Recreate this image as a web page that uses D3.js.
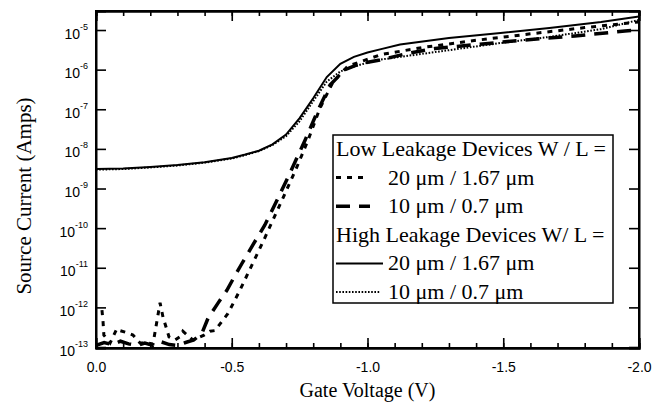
<!DOCTYPE html>
<html>
<head>
<meta charset="utf-8">
<script src="https://cdn.jsdelivr.net/npm/d3@7"></script>
<style>
  body { margin: 0; background: #fff; }
  svg { display: block; }
</style>
</head>
<body>
<svg id="chart"></svg>
<script>
// tick labels
var xTicks = [0, -0.5, -1.0, -1.5, -2.0]
var yExponents = [-13, -12, -11, -10, -9, -8, -7, -6, -5]

// High leakage devices (same gate voltage grid)
var voltHigh = [0, -0.1, -0.2, -0.3, -0.4, -0.5, -0.55, -0.6, -0.65, -0.7, -0.75, -0.8, -0.85, -0.9, -0.95, -1.0, -1.05, -1.12, -1.3, -1.49, -1.67, -1.86, -2.0]
var highWide = [3.1e-9, 3.2e-9, 3.5e-9, 3.9e-9, 4.6e-9, 5.9e-9, 7.2e-9, 9e-9, 1.3e-8, 2.3e-8, 6e-8, 1.9e-7, 6.5e-7, 1.4e-6, 2.1e-6, 2.7e-6, 3.3e-6, 4.3e-6, 6.3e-6, 8.4e-6, 1.12e-5, 1.6e-5, 2.2e-5]
var highNarrow = [3.0e-9, 3.1e-9, 3.4e-9, 3.8e-9, 4.5e-9, 5.7e-9, 7e-9, 8.8e-9, 1.25e-8, 2.1e-8, 5e-8, 1.6e-7, 5e-7, 9e-7, 1.2e-6, 1.5e-6, 1.8e-6, 2.1e-6, 3.1e-6, 4.7e-6, 6.7e-6, 1.05e-5, 1.8e-5]

// Low leakage 20 um / 1.67 um
var voltLowWide = [-0.022, -0.026, -0.029, -0.052, -0.077, -0.088, -0.114, -0.136, -0.162, -0.188, -0.21, -0.236, -0.247, -0.258, -0.269, -0.291, -0.309, -0.32, -0.357, -0.376, -0.398, -0.42, -0.438, -0.486, -0.53, -0.575, -0.615, -0.689, -0.74, -0.781, -0.825, -0.873, -0.928, -1.05, -1.2, -1.4, -1.6, -1.8, -2.0]
var lowWide = [8.5e-13, 4.3e-13, 2e-13, 1.26e-13, 2.9e-13, 2.6e-13, 2.3e-13, 2e-13, 1.26e-13, 1.26e-13, 1.2e-13, 1.3e-12, 5.6e-13, 3.2e-13, 1.8e-13, 1.5e-13, 1.8e-13, 2.5e-13, 1.5e-13, 1.7e-13, 2e-13, 2.5e-13, 2.6e-13, 7e-13, 2.7e-12, 1.2e-11, 4.5e-11, 5.8e-10, 3.5e-9, 1.66e-8, 1.07e-7, 4.9e-7, 1.23e-6, 2.4e-6, 3.6e-6, 5.5e-6, 8e-6, 1.15e-5, 1.6e-5]

// Low leakage 10 um / 0.7 um
var voltLowNarrow = [0, -0.03, -0.06, -0.09, -0.12, -0.15, -0.18, -0.21, -0.24, -0.27, -0.3, -0.33, -0.36, -0.39, -0.413, -0.45, -0.482, -0.51, -0.538, -0.58, -0.622, -0.667, -0.715, -0.77, -0.818, -0.862, -0.917, -0.97, -1.046, -1.15, -1.249, -1.414, -1.58, -1.764, -1.948, -2.0]
var lowNarrow = [1.1e-13, 1.3e-13, 1.15e-13, 1.4e-13, 1.2e-13, 1.1e-13, 1.25e-13, 1.1e-13, 1.35e-13, 1.15e-13, 1.1e-13, 1.3e-13, 1.5e-13, 2.2e-13, 5.4e-13, 1.3e-12, 2.7e-12, 6e-12, 1.3e-11, 4e-11, 1.2e-10, 5.1e-10, 2.5e-9, 1.66e-8, 9.5e-8, 4.1e-7, 1.0e-6, 1.4e-6, 1.75e-6, 2.6e-6, 3.4e-6, 4.4e-6, 5.6e-6, 7.1e-6, 9.4e-6, 1.0e-5]

var legendHeads = ['Low Leakage Devices W / L =', 'High Leakage Devices W/ L =']
var legendNames = ['20 μm / 1.67 μm', '10 μm / 0.7 μm']

var width = 663,
  height = 404,
  plotL = 96,
  plotR = 639,
  plotT = 11,
  plotB = 348

var series = [
  { v: voltLowWide, i: lowWide, width: 3, dash: '5,6', sample: 32 },
  { v: voltLowNarrow, i: lowNarrow, width: 3.5, dash: '14,9', sample: 37 },
  { v: voltHigh, i: highWide, width: 2, dash: null, sample: 50 },
  { v: voltHigh, i: highNarrow, width: 2, dash: '1.6,1.6', sample: 47 },
]

var x = d3.scaleLinear().domain([0, -2]).range([plotL, plotR])
var y = d3
  .scaleLog()
  .domain([Math.pow(10, -13.025), Math.pow(10, -4.52)])
  .range([plotB, plotT])

var svg = d3
  .select('#chart')
  .attr('width', width)
  .attr('height', height)

svg
  .append('clipPath')
  .attr('id', 'plot')
  .append('rect')
  .attr('x', plotL)
  .attr('y', plotT)
  .attr('width', plotR - plotL)
  .attr('height', plotB - plotT)

var line = d3
  .line()
  .x(function(d) {
    return x(d[0])
  })
  .y(function(d) {
    return y(d[1])
  })

var curves = svg.append('g').attr('clip-path', 'url(#plot)')
series.forEach(function(s) {
  curves
    .append('path')
    .datum(d3.zip(s.v, s.i))
    .attr('d', line)
    .attr('fill', 'none')
    .attr('stroke', '#000')
    .attr('stroke-width', s.width)
    .attr('stroke-dasharray', s.dash)
})

// axes, ticks inside on all four sides
var minorV = d3.range(0, 21).map(function(k) {
  return -k / 10
})
var yVals = yExponents.map(function(e) {
  return Math.pow(10, e)
})
var fmtV = function(d) {
  return d === 0 ? '0.0' : '-' + Math.abs(d).toFixed(1)
}

svg
  .append('g')
  .attr('transform', 'translate(0,' + plotB + ')')
  .call(
    d3
      .axisBottom(x)
      .tickValues(minorV)
      .tickSize(-5)
      .tickFormat('')
  )
svg
  .append('g')
  .attr('transform', 'translate(0,' + plotB + ')')
  .call(
    d3
      .axisBottom(x)
      .tickValues(xTicks)
      .tickSize(-10)
      .tickPadding(14)
      .tickFormat(fmtV)
  )
svg
  .append('g')
  .attr('transform', 'translate(0,' + plotT + ')')
  .call(
    d3
      .axisTop(x)
      .tickValues(minorV)
      .tickSize(-5)
      .tickFormat('')
  )
svg
  .append('g')
  .attr('transform', 'translate(0,' + plotT + ')')
  .call(
    d3
      .axisTop(x)
      .tickValues(xTicks)
      .tickSize(-10)
      .tickFormat('')
  )

var yAxisLeft = svg
  .append('g')
  .attr('transform', 'translate(' + plotL + ',0)')
  .call(
    d3
      .axisLeft(y)
      .tickValues(yVals)
      .tickSize(-10)
      .tickFormat('')
  )
svg
  .append('g')
  .attr('transform', 'translate(' + plotR + ',0)')
  .call(
    d3
      .axisRight(y)
      .tickValues(yVals)
      .tickSize(-10)
      .tickFormat('')
  )

svg.selectAll('.domain').attr('stroke-width', 2)
svg.selectAll('.tick line').attr('stroke-width', 1.6)
svg
  .selectAll('.tick text')
  .attr('font-family', 'Liberation Sans, Arial, sans-serif')
  .attr('font-size', 14)
  .attr('fill', '#000')

// 10^n labels
var yLab = yAxisLeft
  .selectAll('.tick')
  .append('text')
  .attr('x', -8)
  .attr('y', 8)
  .attr('text-anchor', 'end')
  .attr('font-family', 'Liberation Sans, Arial, sans-serif')
  .attr('font-size', 14)
  .attr('fill', '#000')
yLab.append('tspan').text('10')
yLab
  .append('tspan')
  .attr('dy', -9)
  .attr('font-size', 9)
  .text(function(d) {
    return Math.round(Math.log10(d))
  })

// frame over everything
svg
  .append('rect')
  .attr('x', plotL)
  .attr('y', plotT)
  .attr('width', plotR - plotL)
  .attr('height', plotB - plotT)
  .attr('fill', 'none')
  .attr('stroke', '#000')
  .attr('stroke-width', 2)

// axis titles
svg
  .append('text')
  .attr('transform', 'translate(31,196) rotate(-90)')
  .attr('text-anchor', 'middle')
  .attr('font-family', 'Liberation Serif, Times New Roman, serif')
  .attr('font-size', 21)
  .text('Source Current (Amps)')
svg
  .append('text')
  .attr('x', (plotL + plotR) / 2)
  .attr('y', 397)
  .attr('text-anchor', 'middle')
  .attr('font-family', 'Liberation Serif, Times New Roman, serif')
  .attr('font-size', 20)
  .text('Gate Voltage (V)')

// legend
var lg = svg.append('g').attr('transform', 'translate(333,135)')
lg.append('rect')
  .attr('width', 280)
  .attr('height', 168)
  .attr('fill', '#fff')
  .attr('stroke', '#000')
  .attr('stroke-width', 1.5)

var rows = [
  { head: legendHeads[0] },
  { name: legendNames[0], s: series[0] },
  { name: legendNames[1], s: series[1] },
  { head: legendHeads[1] },
  { name: legendNames[0], s: series[2] },
  { name: legendNames[1], s: series[3] },
]
rows.forEach(function(r, k) {
  var cy = 14 + k * 28.6
  var t = lg
    .append('text')
    .attr('y', cy + 7)
    .attr('font-family', 'Liberation Serif, Times New Roman, serif')
    .attr('font-size', 22)
  if (r.head) {
    t.attr('x', 3).text(r.head)
  } else {
    t.attr('x', 55).text(r.name)
    lg.append('line')
      .attr('x1', 3)
      .attr('x2', r.s.sample)
      .attr('y1', cy)
      .attr('y2', cy)
      .attr('stroke', '#000')
      .attr('stroke-width', r.s.width)
      .attr('stroke-dasharray', r.s.dash)
  }
})
</script>
</body>
</html>
